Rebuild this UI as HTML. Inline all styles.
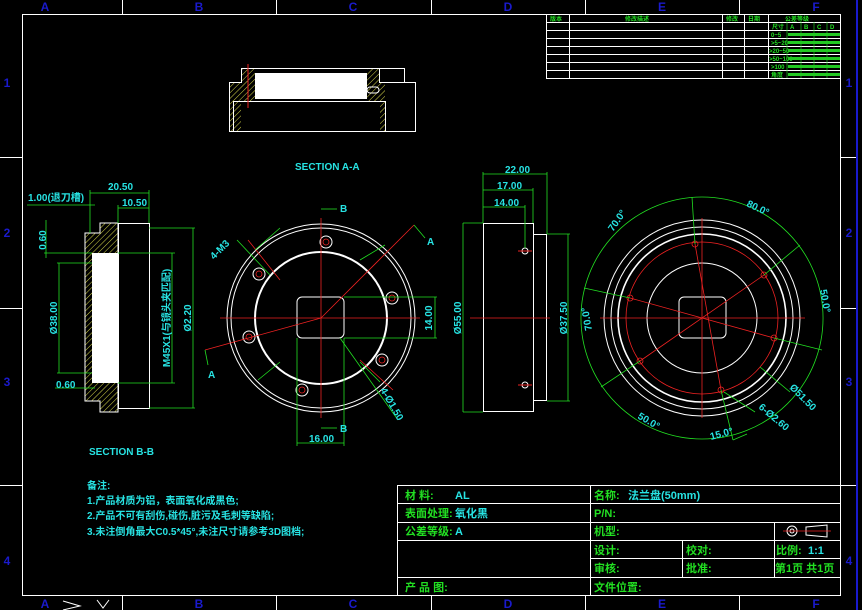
<!DOCTYPE html>
<html><head><meta charset="utf-8"><style>
html,body{margin:0;padding:0;background:#000;width:862px;height:610px;overflow:hidden}
svg{display:block}
text{font-family:"Liberation Sans","Noto Sans CJK SC",sans-serif;font-weight:bold}
.c{fill:#27e3e3}.g{fill:#22e022}.b{fill:#1a1acc}
</style></head><body>
<svg width="862" height="610" viewBox="0 0 862 610" xmlns="http://www.w3.org/2000/svg">
<defs>
<pattern id="h" width="4" height="4" patternUnits="userSpaceOnUse" patternTransform="rotate(45)"><line x1="0" y1="0" x2="0" y2="4" stroke="#d8d84a" stroke-width="1"/></pattern>
</defs>
<g stroke="#fff" fill="none" stroke-width="1">
<rect x="22.5" y="14.5" width="818" height="581"/>
<line x1="122.5" y1="0" x2="122.5" y2="14"/><line x1="276.5" y1="0" x2="276.5" y2="14"/><line x1="431.5" y1="0" x2="431.5" y2="14"/><line x1="585.5" y1="0" x2="585.5" y2="14"/><line x1="739.5" y1="0" x2="739.5" y2="14"/>
<line x1="122.5" y1="596" x2="122.5" y2="610"/><line x1="276.5" y1="596" x2="276.5" y2="610"/><line x1="431.5" y1="596" x2="431.5" y2="610"/><line x1="585.5" y1="596" x2="585.5" y2="610"/><line x1="739.5" y1="596" x2="739.5" y2="610"/>
<line x1="0" y1="157.5" x2="22" y2="157.5"/><line x1="0" y1="308.5" x2="22" y2="308.5"/><line x1="0" y1="485.5" x2="22" y2="485.5"/>
<line x1="841" y1="157.5" x2="856" y2="157.5"/><line x1="841" y1="308.5" x2="856" y2="308.5"/><line x1="841" y1="485.5" x2="856" y2="485.5"/>
</g>
<line x1="857" y1="0" x2="857" y2="610" stroke="#1a1acc" stroke-width="2"/>
<g class="b" font-size="12" text-anchor="middle">
<text x="45" y="11">A</text><text x="199" y="11">B</text><text x="353" y="11">C</text><text x="508" y="11">D</text><text x="662" y="11">E</text><text x="816" y="11">F</text>
<text x="45" y="608">A</text><text x="199" y="608">B</text><text x="353" y="608">C</text><text x="508" y="608">D</text><text x="662" y="608">E</text><text x="816" y="608">F</text>
<text x="7" y="87">1</text><text x="7" y="237">2</text><text x="7" y="386">3</text><text x="7" y="565">4</text>
<text x="849" y="87">1</text><text x="849" y="237">2</text><text x="849" y="386">3</text><text x="849" y="565">4</text>
</g>
<g stroke="#fff" fill="none"><path d="M63 601 L80 606 L63 610"/><path d="M97 600 L103 608 L109 600"/></g>

<g stroke="#fff" fill="none">
<rect x="546.5" y="14.5" width="294" height="64"/>
<line x1="546" y1="22.5" x2="841" y2="22.5"/><line x1="546" y1="30.5" x2="841" y2="30.5"/><line x1="546" y1="38.5" x2="841" y2="38.5"/><line x1="546" y1="46.5" x2="841" y2="46.5"/><line x1="546" y1="54.5" x2="841" y2="54.5"/><line x1="546" y1="62.5" x2="841" y2="62.5"/><line x1="546" y1="70.5" x2="841" y2="70.5"/>
<line x1="569.5" y1="14" x2="569.5" y2="78"/><line x1="722.5" y1="14" x2="722.5" y2="78"/><line x1="744.5" y1="14" x2="744.5" y2="78"/><line x1="768.5" y1="14" x2="768.5" y2="78"/>
</g>
<g stroke="#22e022" stroke-width="0.6"><line x1="787" y1="22" x2="787" y2="78"/><line x1="801" y1="22" x2="801" y2="78"/><line x1="814" y1="22" x2="814" y2="78"/><line x1="827" y1="22" x2="827" y2="78"/></g>
<g class="g" font-size="6"><text x="550" y="21">版本</text><text x="625" y="21">修改描述</text><text x="726" y="21">修改</text><text x="748" y="21">日期</text><text x="785" y="21">公差等级</text>
<text x="772" y="29">尺寸</text><text x="790" y="29">A</text><text x="804" y="29">B</text><text x="817" y="29">C</text><text x="830" y="29">D</text>
<text x="771" y="37">0~5</text><text x="771" y="45">&gt;5~20</text><text x="769" y="53">&gt;20~50</text><text x="769" y="61">&gt;50~100</text><text x="771" y="69">&gt;100</text><text x="771" y="77">角度</text></g>
<g fill="#22c822"><rect x="788" y="33" width="52" height="3"/><rect x="788" y="41" width="52" height="3"/><rect x="788" y="49" width="52" height="3"/><rect x="788" y="57" width="52" height="3"/><rect x="788" y="65" width="52" height="3"/><rect x="788" y="73" width="52" height="3"/></g>

<rect x="229" y="82" width="12" height="49" fill="url(#h)"/>
<rect x="241" y="68" width="14" height="33" fill="url(#h)"/>
<rect x="367" y="68" width="13" height="33" fill="url(#h)"/>
<rect x="380" y="82" width="5" height="49" fill="url(#h)"/>
<rect x="255" y="73" width="112" height="26" fill="#fff"/>
<g stroke="#fff" fill="none">
<path d="M229.5 82.5 H241.5 V68.5 H404.5 V82.5 H415.5 V131.5 H229.5 Z"/>
<rect x="233.5" y="101.5" width="152" height="30"/>
<rect x="379.5" y="68.5" width="25" height="14"/>
<rect x="367" y="87" width="12" height="6" rx="3"/>
</g>
<line x1="248" y1="64" x2="248" y2="108" stroke="#e22" stroke-width="1"/>
<text x="295" y="170" class="c" font-size="10">SECTION A-A</text>

<path d="M85 233 H100 V223 H118 V412 H100 V401 H85 Z" fill="url(#h)" stroke="#fff"/>
<rect x="118.5" y="223.5" width="31" height="185" fill="#000" stroke="#fff"/>
<rect x="92" y="253" width="26" height="130" fill="#fff"/>
<g stroke="#22e022" fill="none" stroke-width="0.8">
<line x1="90" y1="190" x2="90" y2="233"/><line x1="149" y1="190" x2="149" y2="223"/><line x1="90" y1="193" x2="149" y2="193"/>
<line x1="118" y1="205" x2="118" y2="223"/><line x1="118" y1="208" x2="149" y2="208"/>
<line x1="27" y1="205" x2="95" y2="205"/>
<line x1="46" y1="220" x2="46" y2="258"/><line x1="44" y1="253" x2="92" y2="253"/>
<line x1="59" y1="263" x2="59" y2="373"/><line x1="57" y1="263" x2="92" y2="263"/><line x1="57" y1="373" x2="92" y2="373"/>
<line x1="55" y1="388" x2="95" y2="388"/>
<line x1="172" y1="253" x2="172" y2="383"/><line x1="118" y1="253" x2="175" y2="253"/><line x1="118" y1="383" x2="175" y2="383"/>
<line x1="193" y1="228" x2="193" y2="408"/><line x1="149" y1="228" x2="195" y2="228"/><line x1="149" y1="408" x2="195" y2="408"/>
</g>
<g class="c" font-size="10">
<text x="108" y="190">20.50</text><text x="122" y="206">10.50</text><text x="28" y="201">1.00(退刀槽)</text><text x="56" y="388">0.60</text>
<text transform="translate(46,240) rotate(-90)" text-anchor="middle">0.60</text>
<text transform="translate(57,318) rotate(-90)" text-anchor="middle">Ø38.00</text>
<text transform="translate(170,318) rotate(-90)" text-anchor="middle">M45X1(与镜头夹匹配)</text>
<text transform="translate(191,318) rotate(-90)" text-anchor="middle">Ø2.20</text>
<text x="89" y="455">SECTION B-B</text>
</g>

<g stroke="#fff" fill="none" stroke-width="1">
<circle cx="321" cy="318" r="94"/><circle cx="321" cy="318" r="90"/><circle cx="321" cy="318" r="66" stroke-width="2"/>
<rect x="297" y="297" width="47" height="41" rx="5"/>
<circle cx="326" cy="242" r="6"/><circle cx="259" cy="274" r="6"/><circle cx="392" cy="298" r="6"/><circle cx="249" cy="337" r="6"/><circle cx="382" cy="360" r="6"/><circle cx="302" cy="390" r="6"/>
</g>
<g stroke="#e22" fill="none" stroke-width="0.8">
<line x1="321" y1="218" x2="321" y2="418"/><line x1="220" y1="318" x2="420" y2="318"/>
<line x1="205" y1="350" x2="321" y2="318"/><line x1="321" y1="318" x2="414" y2="225"/>
<circle cx="326" cy="242" r="3"/><circle cx="259" cy="274" r="3"/><circle cx="392" cy="298" r="3"/><circle cx="249" cy="337" r="3"/><circle cx="382" cy="360" r="3"/><circle cx="302" cy="390" r="3"/>
<line x1="248" y1="240" x2="280" y2="280"/><line x1="360" y1="360" x2="393" y2="390"/>
</g>
<g stroke="#22e022" fill="none" stroke-width="0.8">
<line x1="321" y1="209" x2="337" y2="209"/><line x1="321" y1="428" x2="337" y2="428"/>
<line x1="414" y1="225" x2="425" y2="238"/><line x1="205" y1="350" x2="208" y2="365"/>
<line x1="344" y1="297" x2="437" y2="297"/><line x1="344" y1="338" x2="437" y2="338"/><line x1="435" y1="297" x2="435" y2="338"/>
<line x1="297" y1="338" x2="297" y2="446"/><line x1="344" y1="338" x2="344" y2="446"/><line x1="297" y1="443" x2="344" y2="443"/>
<line x1="237" y1="240" x2="270" y2="275"/><line x1="340" y1="338" x2="398" y2="420"/>
<line x1="255" y1="250" x2="280" y2="228"/><line x1="360" y1="260" x2="385" y2="245"/><line x1="258" y1="380" x2="280" y2="362"/><line x1="360" y1="362" x2="380" y2="382"/>
</g>
<g class="c" font-size="10">
<text x="340" y="212">B</text><text x="340" y="432">B</text><text x="427" y="245">A</text><text x="208" y="378">A</text>
<text x="309" y="442">16.00</text>
<text transform="translate(432,318) rotate(-90)" text-anchor="middle">14.00</text>
<text transform="translate(214,260) rotate(-45)">4-M3</text>
<text transform="translate(380,390) rotate(60)">4-Ø1.50</text>
</g>

<rect x="483.5" y="223.5" width="50" height="188" fill="none" stroke="#fff"/>
<rect x="533.5" y="234.5" width="13" height="166" fill="none" stroke="#fff"/>
<line x1="470" y1="318" x2="550" y2="318" stroke="#e22" stroke-width="0.8"/>
<g stroke="#e22" fill="none"><circle cx="525" cy="251" r="3" stroke="#fff"/><line x1="518" y1="251" x2="532" y2="251"/><circle cx="525" cy="385" r="3" stroke="#fff"/><line x1="518" y1="385" x2="532" y2="385"/></g>
<g stroke="#22e022" fill="none" stroke-width="0.8">
<line x1="483" y1="172" x2="483" y2="223"/><line x1="547" y1="172" x2="547" y2="234"/><line x1="483" y1="174" x2="547" y2="174"/>
<line x1="533" y1="188" x2="533" y2="223"/><line x1="483" y1="190" x2="533" y2="190"/>
<line x1="525" y1="205" x2="525" y2="248"/><line x1="483" y1="207" x2="525" y2="207"/>
<line x1="463" y1="223" x2="483" y2="223"/><line x1="463" y1="412" x2="483" y2="412"/><line x1="463" y1="223" x2="463" y2="412"/>
<line x1="547" y1="234" x2="570" y2="234"/><line x1="547" y1="401" x2="570" y2="401"/><line x1="568" y1="234" x2="568" y2="401"/>
</g>
<g class="c" font-size="10">
<text x="505" y="173">22.00</text><text x="497" y="189">17.00</text><text x="494" y="206">14.00</text>
<text transform="translate(461,318) rotate(-90)" text-anchor="middle">Ø55.00</text>
<text transform="translate(567,318) rotate(-90)" text-anchor="middle">Ø37.50</text>
</g>

<g stroke="#fff" fill="none">
<circle cx="702" cy="318" r="98"/><circle cx="702" cy="318" r="91"/><circle cx="702" cy="318" r="84" stroke-width="1.6"/><circle cx="702" cy="318" r="55"/>
<rect x="679" y="297" width="47" height="41" rx="5"/>
</g>
<g stroke="#e22" fill="none" stroke-width="0.8">
<circle cx="702" cy="318" r="76"/>
<line x1="702" y1="218" x2="702" y2="418"/><line x1="600" y1="318" x2="805" y2="318"/>
<line x1="630" y1="298" x2="774" y2="338"/><line x1="640" y1="361" x2="764" y2="275"/><line x1="695" y1="244" x2="721" y2="390"/>
<circle cx="695" cy="244" r="3"/><circle cx="764" cy="275" r="3"/><circle cx="774" cy="338" r="3"/><circle cx="721" cy="390" r="3"/><circle cx="640" cy="361" r="3"/><circle cx="630" cy="298" r="3"/>
</g>
<g stroke="#22e022" fill="none" stroke-width="0.8">
<path d="M702 197 A121 121 0 1 1 702 439 A121 121 0 1 1 702 197"/>
<line x1="695" y1="244" x2="692" y2="197"/><line x1="764" y1="275" x2="800" y2="245"/><line x1="774" y1="338" x2="822" y2="350"/><line x1="721" y1="390" x2="733" y2="440"/><line x1="640" y1="361" x2="601" y2="387"/><line x1="630" y1="298" x2="584" y2="288"/>
<line x1="760" y1="367" x2="790" y2="392"/><line x1="724" y1="392" x2="755" y2="412"/><line x1="733" y1="440" x2="747" y2="434"/>
</g>
<g class="c" font-size="10">
<text transform="translate(613,232) rotate(-55)">70.0°</text>
<text transform="translate(746,206) rotate(25)">80.0°</text>
<text transform="translate(820,290) rotate(80)">50.0°</text>
<text transform="translate(592,330) rotate(-100)">70.0°</text>
<text transform="translate(637,418) rotate(30)">50.0°</text>
<text transform="translate(711,440) rotate(-15)">15.0°</text>
<text transform="translate(789,388) rotate(45)">Ø51.50</text>
<text transform="translate(758,408) rotate(40)">6-Ø2.60</text>
</g>

<g class="c" font-size="10" font-weight="normal">
<text x="87" y="489">备注:</text>
<text x="87" y="504">1.产品材质为铝，表面氧化成黑色;</text>
<text x="87" y="519">2.产品不可有刮伤,碰伤,脏污及毛刺等缺陷;</text>
<text x="87" y="535">3.未注倒角最大C0.5*45°,未注尺寸请参考3D图档;</text>
</g>

<g stroke="#fff" fill="none">
<rect x="397.5" y="485.5" width="443" height="110"/>
<line x1="397" y1="503.5" x2="841" y2="503.5"/><line x1="397" y1="522.5" x2="841" y2="522.5"/><line x1="397" y1="540.5" x2="841" y2="540.5"/><line x1="590" y1="558.5" x2="841" y2="558.5"/><line x1="397" y1="577.5" x2="841" y2="577.5"/>
<line x1="590.5" y1="485" x2="590.5" y2="596"/><line x1="682.5" y1="540" x2="682.5" y2="577"/><line x1="774.5" y1="522" x2="774.5" y2="577"/>
<circle cx="792" cy="531" r="5"/><circle cx="792" cy="531" r="2"/><path d="M806 527 L827 525 V537 L806 535 Z"/>
</g>
<line x1="783" y1="531" x2="831" y2="531" stroke="#e22" stroke-width="0.7"/>
<g font-size="11">
<text class="g" x="405" y="499">材  料:</text><text class="c" x="455" y="499">AL</text>
<text class="g" x="405" y="517">表面处理:</text><text class="c" x="455" y="517">氧化黑</text>
<text class="g" x="405" y="535">公差等级:</text><text class="c" x="455" y="535">A</text>
<text class="g" x="405" y="591">产 品 图:</text>
<text class="g" x="594" y="499">名称:</text><text class="c" x="628" y="499">法兰盘(50mm)</text>
<text class="g" x="594" y="517">P/N:</text>
<text class="g" x="594" y="535">机型:</text>
<text class="g" x="594" y="554">设计:</text><text class="g" x="686" y="554">校对:</text><text class="g" x="776" y="554">比例:</text><text class="c" x="808" y="554">1:1</text>
<text class="g" x="594" y="572">审核:</text><text class="g" x="686" y="572">批准:</text><text class="g" x="775" y="572">第1页 共1页</text>
<text class="g" x="594" y="591">文件位置:</text>
</g>
</svg>
</body></html>
